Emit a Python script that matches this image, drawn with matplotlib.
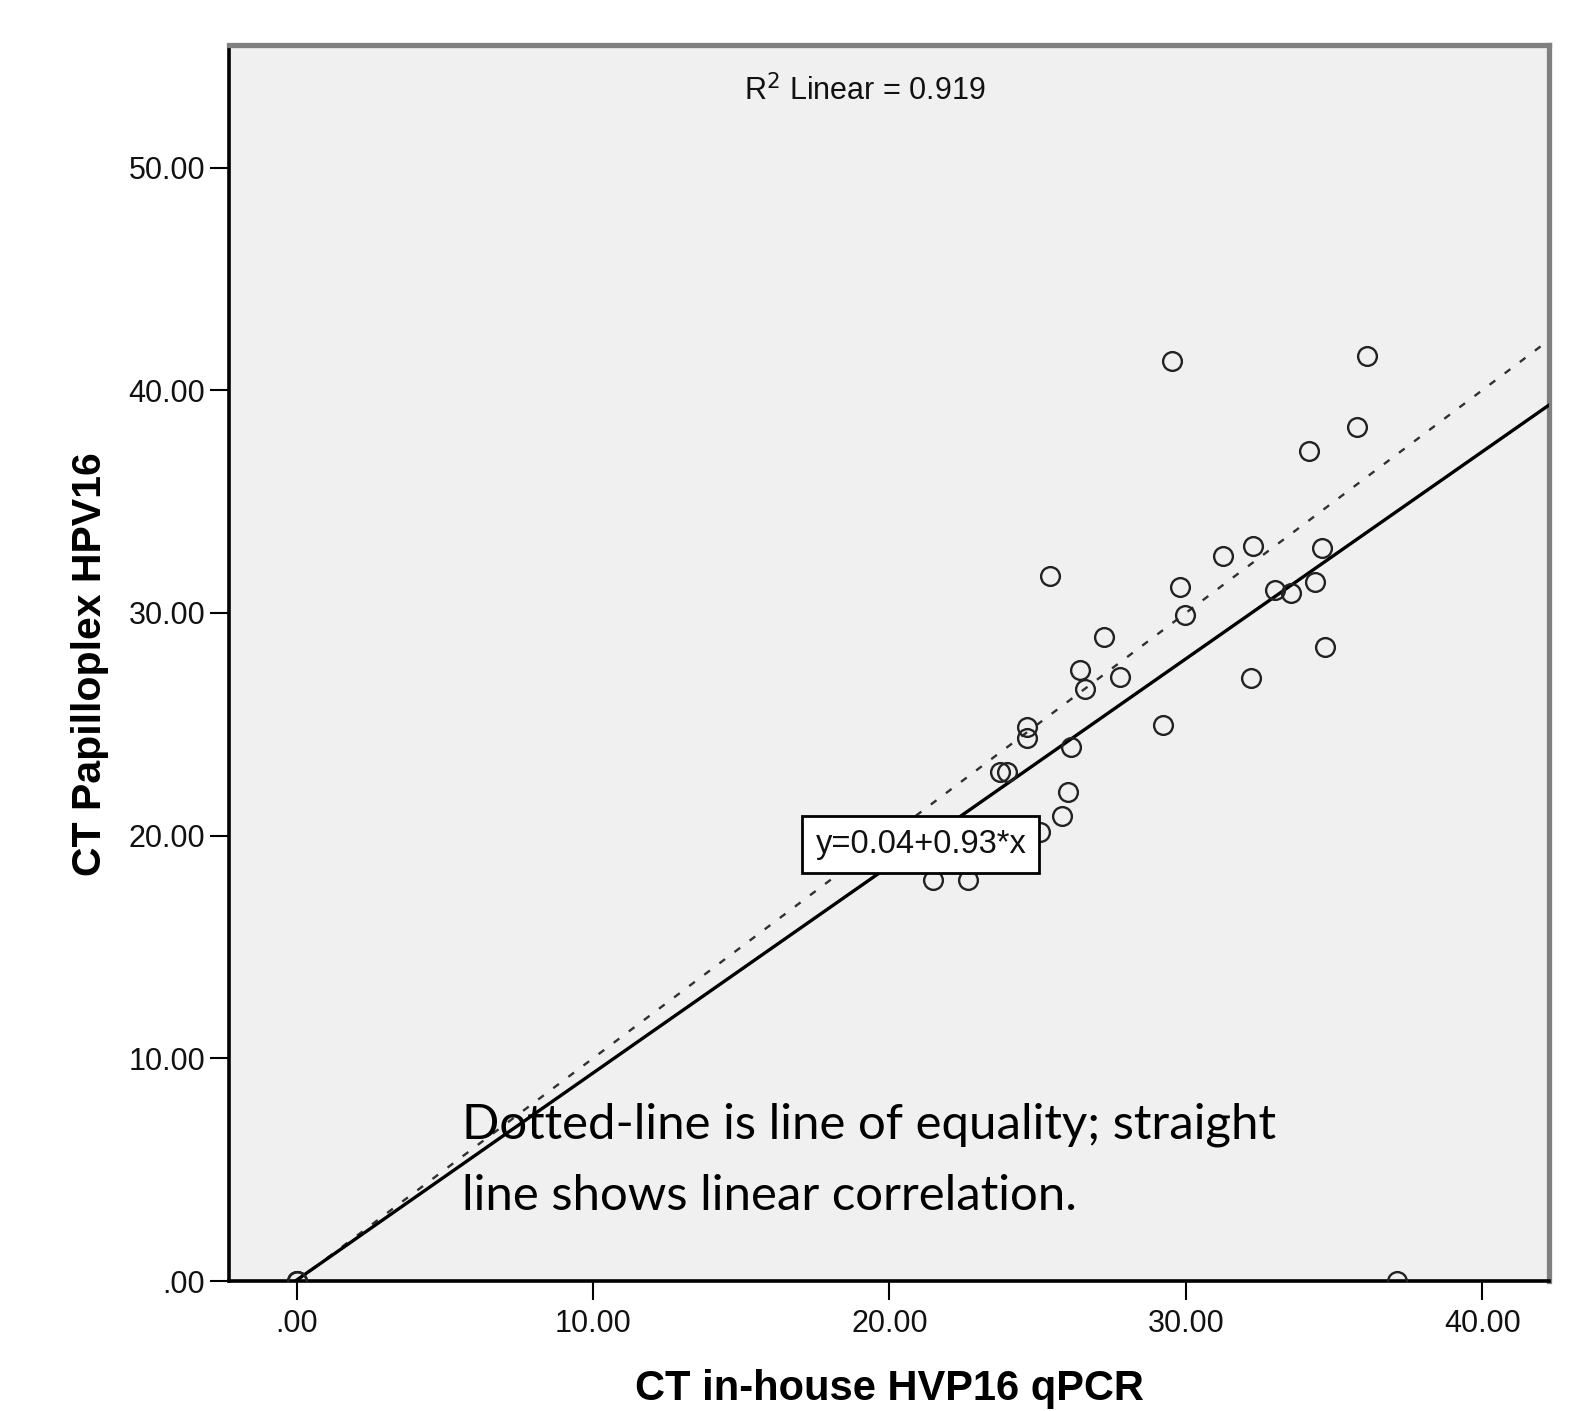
import matplotlib
matplotlib.use("Agg")
import matplotlib.pyplot as plt
import numpy as np

# Data
x_inhouse = [29.53, 36.12, 35.77, 34.17, 32.28, 31.26, 34.59, 25.43, 29.79, 29.98,
             33.01, 33.54, 34.35, 27.23, 34.70, 26.44, 26.59, 27.79, 32.19, 29.23,
             24.63, 24.63, 23.73, 23.96, 26.11, 26.03, 25.83, 25.08, 21.48, 22.66,
             0.0, 0.0, 0.0, 37.13]
y_papilloplex = [41.30, 41.52, 38.35, 37.29, 33.02, 32.57, 32.92, 31.67, 31.15, 29.92,
                 31.04, 30.89, 31.37, 28.94, 28.47, 27.42, 26.58, 27.12, 27.08, 24.98,
                 24.87, 24.38, 22.85, 22.85, 24.00, 21.98, 20.89, 20.18, 18.01, 18.01,
                 0.0, 0.0, 0.0, 0.0]
fit_intercept = 0.04
fit_slope = 0.93
r2_value = 0.919
x_ticks = [0, 10, 20, 30, 40]
x_ticklabels = [".00", "10.00", "20.00", "30.00", "40.00"]
y_ticks = [0, 10, 20, 30, 40, 50]
y_ticklabels = [".00", "10.00", "20.00", "30.00", "40.00", "50.00"]
x_label = "CT in-house HVP16 qPCR"
y_label = "CT Papilloplex HPV16"
note_lines = ["Dotted-line is line of equality; straight",
              "line shows linear correlation."]

XMIN, XMAX = -2.28, 42.25
YMIN, YMAX = 0.0, 55.5

plt.rcParams['font.family'] = ['Liberation Sans', 'DejaVu Sans']

fig = plt.figure(figsize=(15.79, 14.11), dpi=100)
ax = fig.add_axes([0.1450, 0.0921, 0.9810 - 0.1450, 0.9681 - 0.0921])
ax.set_facecolor('#f0f0f0')
ax.set_xlim(XMIN, XMAX)
ax.set_ylim(YMIN, YMAX)

# Lines
xs = np.array([0.0, XMAX])
ax.plot(xs, xs, linestyle=(0, (3, 5)), color='#303030', lw=1.7, zorder=2)
ax.plot(xs, fit_intercept + fit_slope * xs, color='black', lw=2.4, zorder=3)

# Points
ax.plot(x_inhouse, y_papilloplex, linestyle='none', marker='o', ms=13.5,
        mfc='none', mec='#222222', mew=1.7, zorder=4)

# Ticks
ax.set_xticks(x_ticks)
ax.set_xticklabels(x_ticklabels)
ax.set_yticks(y_ticks)
ax.set_yticklabels(y_ticklabels)
ax.tick_params(axis='both', direction='out', length=14, width=1.5, color='black',
               labelsize=22, labelcolor='#111111')
ax.tick_params(axis='x', pad=6)
ax.tick_params(axis='y', pad=3)

for s in ['left', 'bottom']:
    ax.spines[s].set_color('black')
    ax.spines[s].set_linewidth(2.6)
for s in ['top', 'right']:
    ax.spines[s].set_color('#808080')
    ax.spines[s].set_linewidth(3.8)

fig.text(0.563, 0.0156, x_label, fontsize=30, fontweight='bold', ha='center', va='center')
fig.text(0.0567, 0.529, y_label, fontsize=29.5, fontweight='bold', ha='center', va='center',
         rotation=90)

# R^2 text
ax.text(0.4815, 0.963, "R$^2$ Linear = %.3f" % r2_value, transform=ax.transAxes,
        ha='center', va='center', fontsize=22, color='#111111')

# Equation box
ax.text(21.06, 19.6, "y=%.2f+%.2f*x" % (fit_intercept, fit_slope), ha='center', va='center',
        fontsize=23.5, color='#111111', zorder=6,
        bbox=dict(boxstyle='square,pad=0.4', facecolor='white', edgecolor='black', lw=2))

# Note text
ax.text(5.58, 6.42, note_lines[0], ha='left', va='baseline', fontsize=35.4,
        family=['Lato', 'DejaVu Sans'], color='black', zorder=6)
ax.text(5.58, 3.19, note_lines[1], ha='left', va='baseline', fontsize=35.4,
        family=['Lato', 'DejaVu Sans'], color='black', zorder=6)

fig.savefig("out.png", dpi=100)
